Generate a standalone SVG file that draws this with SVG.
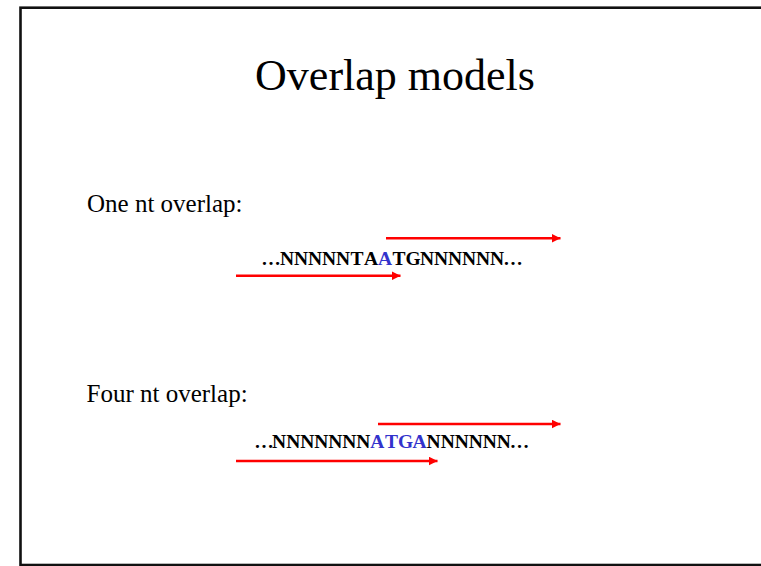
<svg xmlns="http://www.w3.org/2000/svg" width="761" height="566" viewBox="0 0 761 566">
  <style>
    .frame { fill: #ffffff; stroke: #111111; stroke-width: 2.6; }
    .title { font-family: "Liberation Serif", "Times New Roman", serif; font-size: 44px; fill: #000000; text-anchor: middle; }
    .label { font-family: "Liberation Serif", "Times New Roman", serif; font-size: 25px; fill: #000000; }
    /* sequence letters sit on a fixed 14px grid, one glyph centred per cell */
    .seq { font-family: "Liberation Serif", "Times New Roman", serif; font-size: 19.5px; font-weight: bold; fill: #000000; text-anchor: middle; }
    .hl { fill: #3333cc; }
    .shaft { stroke: #ff0000; stroke-width: 2.6; fill: none; }
    .head { fill: #ff0000; }
  </style>
  <defs>
    <marker id="arrowhead" viewBox="0 0 10 10" refX="10" refY="5" markerWidth="9" markerHeight="9" markerUnits="userSpaceOnUse" orient="auto">
      <path class="head" d="M0,0 L10,5 L0,10 Z"/>
    </marker>
  </defs>

  <rect class="frame" x="20.5" y="7.7" width="760" height="557.3"/>

  <g id="title">
    <text class="title" x="395" y="89.5">Overlap models</text>
  </g>

  <g id="one-nt">
    <text class="label" x="87" y="211.5">One nt overlap:</text>
    <text class="seq" y="264.5" x="271 287 301 315 329 343 357 371 385 399 413 427 441 455 469 483 497 513">…NNNNNTA<tspan class="hl">A</tspan>TGNNNNNN…</text>
  </g>

  <g id="four-nt">
    <text class="label" x="86.5" y="401.5">Four nt overlap:</text>
    <text class="seq" y="448" x="264 279.1 293.2 307.2 321.2 335.3 349.3 363.4 377.4 391.5 405.5 419.6 433.6 447.7 461.7 475.8 489.8 503.9 519.5">…NNNNNNN<tspan class="hl">ATGA</tspan>NNNNNN…</text>
  </g>

  <g id="connectors">
    <line class="shaft" x1="386" y1="238.3" x2="560.5" y2="238.3" marker-end="url(#arrowhead)"/>
    <line class="shaft" x1="236" y1="275.8" x2="400.5" y2="275.8" marker-end="url(#arrowhead)"/>
    <line class="shaft" x1="378" y1="424" x2="560.5" y2="424" marker-end="url(#arrowhead)"/>
    <line class="shaft" x1="236" y1="461" x2="437.5" y2="461" marker-end="url(#arrowhead)"/>
  </g>
</svg>
